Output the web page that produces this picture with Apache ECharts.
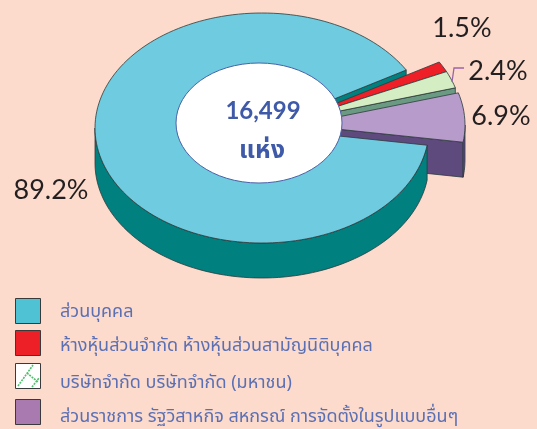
<!DOCTYPE html>
<html>
<head>
<meta charset="utf-8">
<style>
html, body { margin: 0; padding: 0; background: #fcdbcc; }
#chart { width: 537px; height: 429px; }
</style>
<script src="https://cdn.jsdelivr.net/npm/echarts@6/dist/echarts.min.js"></script>
</head>
<body>
<div id="chart"></div>
<script>
var categories = ['ส่วนบุคคล', 'ห้างหุ้นส่วนจำกัด ห้างหุ้นส่วนสามัญนิติบุคคล', 'บริษัทจำกัด บริษัทจำกัด (มหาชน)', 'ส่วนราชการ รัฐวิสาหกิจ สหกรณ์ การจัดตั้งในรูปแบบอื่นๆ'];
var shares = [89.2, 1.5, 2.4, 6.9];
var totalText = '16,499';
var unitText = 'แห่ง';

var topColors = ['#6fcbdf', '#ee1f27', '#d5edc3', '#b79ccb'];
var wallColors = ['#00807f', '#b5181e', '#6a9a82', '#5f4a7e'];
var swatchColors = ['#4fc3d3', '#ee2027', '#ffffff', '#a97ab0'];
var labelPos = [[51, 190], [462, 28], [498, 71], [501, 116]];
// how far each slice is pulled out of the pie
var pullOut = [[0, 0], [33, -8], [33, -8], [36, -3]];

var THAI = '"Noto Sans Thai", "Noto Sans", Lato, sans-serif';
var cx = 262, cy = 128, rx = 167, ry = 115, depth = 35;
var startAngle = -8.6;

function pt(a, ox, oy, down) {
    var r = a * Math.PI / 180;
    return [cx + ox + rx * Math.cos(r), cy + oy - ry * Math.sin(r) + (down || 0)];
}
// a1 > a2, going clockwise
function arc(a1, a2, ox, oy, down) {
    var pts = [];
    var n = Math.max(2, Math.ceil((a1 - a2) / 2));
    for (var i = 0; i <= n; i++) {
        pts.push(pt(a1 + (a2 - a1) * i / n, ox, oy, down));
    }
    return pts;
}
function poly(points, fill, z2) {
    return {
        type: 'polygon', z2: z2, shape: { points: points },
        style: { fill: fill, stroke: '#2c3b3c', lineWidth: 0.8, lineJoin: 'round' }
    };
}
function cutFace(a, ox, oy, fill, z2) {
    var o = pt(a, ox, oy);
    var a0 = [cx + ox, cy + oy];
    return poly([a0, o, [o[0], o[1] + depth], [a0[0], a0[1] + depth]], fill, z2);
}
function rimWall(a1, a2, ox, oy, fill, z2) {
    return poly(arc(a1, a2, ox, oy, 0).concat(arc(a1, a2, ox, oy, depth).reverse()), fill, z2);
}

function renderSlice(params, api) {
    var i = params.dataIndex;
    var before = 0;
    for (var k = 0; k < i; k++) before += shares[k];
    var a1 = startAngle - before * 3.6;
    var a2 = a1 - api.value(0) * 3.6;
    var ox = pullOut[i][0], oy = pullOut[i][1];
    var base = i === 0 ? 8 : i * 2;
    var children = [];

    if (i === 0) {
        // teal face seen in the gap above the pulled out slices, front wall over the purple one
        children.push(cutFace(a2, 0, 0, wallColors[0], 1));
        children.push(rimWall(a1, -180, 0, 0, wallColors[0], base));
    } else {
        children.push(cutFace(a2, ox, oy, wallColors[i], base));
        if (a2 < -360) children.push(rimWall(-360, a2, ox, oy, wallColors[i], base));
    }
    children.push(poly([[cx + ox, cy + oy]].concat(arc(a1, a2, ox, oy, 0)), topColors[i], base + 1));

    children.push({
        type: 'text', z2: 20,
        style: {
            text: api.value(0).toFixed(1) + '%', x: labelPos[i][0], y: labelPos[i][1],
            align: 'center', verticalAlign: 'middle',
            font: '27px Lato, sans-serif', fill: '#231f20'
        }
    });

    if (i === 0) {
        children.push({
            type: 'ellipse', z2: 15,
            shape: { cx: 259, cy: 123, rx: 83, ry: 60 },
            style: { fill: '#ffffff', stroke: '#4a62a8', lineWidth: 1 }
        });
        children.push({
            type: 'text', z2: 20,
            style: {
                text: totalText, x: 263, y: 111, align: 'center', verticalAlign: 'middle',
                font: 'bold 24px Lato, sans-serif', fill: '#3f5aa8'
            }
        });
        children.push({
            type: 'text', z2: 20,
            style: {
                text: unitText, x: 262, y: 153, align: 'center', verticalAlign: 'middle',
                font: 'bold 25px ' + THAI, fill: '#3f5aa8'
            }
        });
    }
    if (i === 2) {
        // leader from the slice to its label
        children.push({
            type: 'polyline', z2: 14,
            shape: { points: [[452, 82], [454, 68], [464, 68]] },
            style: { fill: 'none', stroke: '#9a65a6', lineWidth: 1.3 }
        });
    }
    return { type: 'group', children: children };
}

var legendTop = [298, 330, 363, 399];
var legendTextTop = [301, 335, 372, 406];
var legendElements = [];
categories.forEach(function (name, i) {
    legendElements.push({
        type: 'rect', left: 15, top: legendTop[i],
        shape: { width: 25, height: 25 },
        style: { fill: swatchColors[i], stroke: '#3a3a3a', lineWidth: 1 }
    });
    legendElements.push({
        type: 'text', left: 60, top: legendTextTop[i],
        style: { text: name, font: '18px ' + THAI, fill: '#5b70b4', lineHeight: 24 }
    });
});
// hatch on the green swatch
[[[18, 386], [33, 365]], [[32, 387], [39, 378]], [[27, 373], [38, 382]]].forEach(function (p) {
    legendElements.push({
        type: 'polyline', shape: { points: p },
        style: { fill: 'none', stroke: '#4cc06a', lineWidth: 1.6, lineDash: [2, 1] }
    });
});

var myChart = echarts.init(document.getElementById('chart'));
myChart.setOption({
    animation: false,
    backgroundColor: '#fcdbcc',
    graphic: legendElements,
    series: [{
        type: 'custom',
        coordinateSystem: 'none',
        renderItem: renderSlice,
        data: shares.map(function (v) { return [v]; })
    }]
});
</script>
</body>
</html>
